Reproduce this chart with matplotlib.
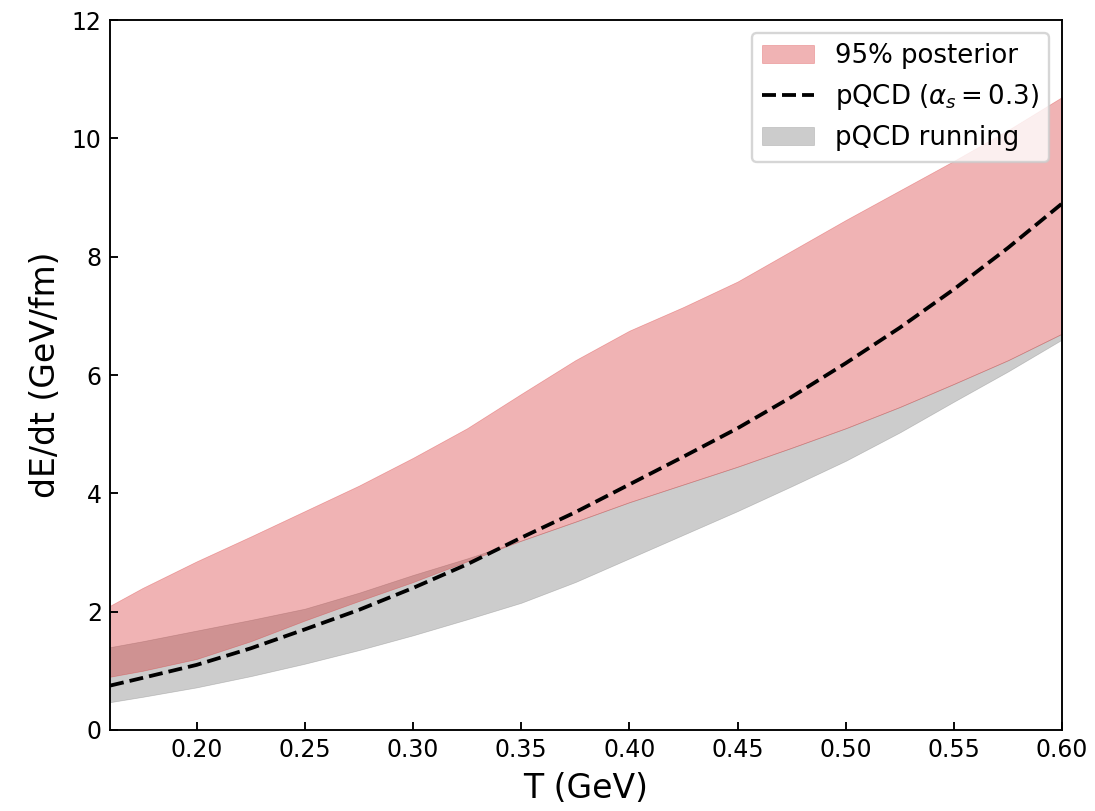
import numpy as np
import matplotlib
matplotlib.use('Agg')
import matplotlib.pyplot as plt

# temperature grid (GeV)
T = np.array([0.16, 0.175, 0.20, 0.225, 0.25, 0.275, 0.30, 0.325, 0.35, 0.375,
              0.40, 0.425, 0.45, 0.475, 0.50, 0.525, 0.55, 0.575, 0.60])

# 95% posterior band
post_lo = np.array([0.90, 1.00, 1.20, 1.50, 1.85, 2.18, 2.50, 2.85, 3.20, 3.52,
                    3.85, 4.15, 4.45, 4.77, 5.10, 5.46, 5.85, 6.25, 6.70])
post_hi = np.array([2.10, 2.40, 2.85, 3.27, 3.70, 4.13, 4.60, 5.10, 5.68, 6.25,
                    6.75, 7.15, 7.58, 8.10, 8.62, 9.12, 9.62, 10.14, 10.70])

# pQCD fixed coupling alpha_s = 0.3
pqcd = np.array([0.75, 0.88, 1.10, 1.38, 1.70, 2.03, 2.40, 2.80, 3.25, 3.68,
                 4.15, 4.62, 5.10, 5.63, 6.20, 6.80, 7.45, 8.15, 8.90])

# pQCD running coupling band
run_lo = np.array([0.47, 0.56, 0.72, 0.91, 1.12, 1.35, 1.60, 1.87, 2.15, 2.50,
                   2.90, 3.30, 3.70, 4.12, 4.55, 5.03, 5.55, 6.06, 6.60])
run_hi = np.array([1.40, 1.50, 1.68, 1.86, 2.05, 2.32, 2.62, 2.90, 3.20, 3.52,
                   3.85, 4.15, 4.45, 4.77, 5.10, 5.46, 5.85, 6.25, 6.70])

fig = plt.figure(figsize=(1095/170, 811/170), dpi=170)
ax = fig.add_axes([0.1005, 0.0999, 0.8695, 0.8754])

h_run = ax.fill_between(T, run_lo, run_hi, color='grey', alpha=0.4, lw=0.3,
                        label='pQCD running')
h_post = ax.fill_between(T, post_lo, post_hi, color='tab:red', alpha=0.35, lw=0.3,
                         label='95% posterior')
h_pqcd, = ax.plot(T, pqcd, 'k--', lw=1.6, label=r'pQCD ($\alpha_s = 0.3$)')

ax.set_xlim(0.16, 0.60)
ax.set_ylim(0, 12)
xt = np.arange(0.20, 0.601, 0.05)
ax.set_xticks(xt)
ax.set_xticklabels(['%.2f' % v for v in xt])
ax.set_yticks(np.arange(0, 13, 2))
ax.tick_params(direction='in', labelsize=10)
ax.set_xlabel('T (GeV)', fontsize=14)
ax.set_ylabel('dE/dt (GeV/fm)', fontsize=14)

ax.legend(handles=[h_post, h_pqcd, h_run], loc='upper right', fontsize=11)

fig.savefig('out.png', dpi=170)
